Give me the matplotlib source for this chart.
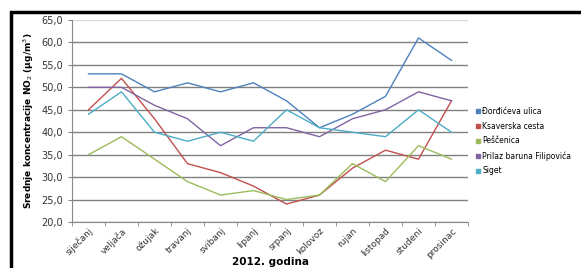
import matplotlib.pyplot as plt
from matplotlib.patches import Rectangle
from matplotlib.lines import Line2D
from matplotlib.ticker import FuncFormatter

mjeseci = ['siječanj', 'veljača', 'ožujak', 'travanj', 'svibanj', 'lipanj',
           'srpanj', 'kolovoz', 'rujan', 'listopad', 'studeni', 'prosinac']

djordjiceva = [53, 53, 49, 51, 49, 51, 47, 41, 44, 48, 61, 56]
ksaverska = [45, 52, 43, 33, 31, 28, 24, 26, 32, 36, 34, 47]
pescenica = [35, 39, 34, 29, 26, 27, 25, 26, 33, 29, 37, 34]
filipovica = [50, 50, 46, 43, 37, 41, 41, 39, 43, 45, 49, 47]
siget = [44, 49, 40, 38, 40, 38, 45, 41, 40, 39, 45, 40]

nazivi = ['Đorđićeva ulica', 'Ksaverska cesta', 'Peščenica',
          'Prilaz baruna Filipovića', 'Siget']
boje = ['#4F81BD', '#C0504D', '#9BBB59', '#8064A2', '#4BACC6']

fig = plt.figure(figsize=(5.81, 2.68), dpi=100)
ax = fig.add_axes([72/581, 1 - 222/268, 396/581, 202/268])

x = range(len(mjeseci))
for serija, naziv, boja in zip([djordjiceva, ksaverska, pescenica, filipovica, siget], nazivi, boje):
    ax.plot(x, serija, color=boja, lw=1, label=naziv)

ax.set_xlim(-0.5, 11.5)
ax.set_ylim(20, 65)
ax.set_yticks(range(20, 66, 5))
ax.yaxis.set_major_formatter(FuncFormatter(lambda v, p: f'{v:.1f}'.replace('.', ',')))
ax.set_xticks(list(x))
ax.set_xticklabels(mjeseci, rotation=45, ha='right', rotation_mode='anchor', fontsize=6.5, color='#333333')
ax.set_xticks([i - 0.5 for i in range(13)], minor=True)
ax.tick_params(axis='x', which='major', length=0, pad=3)
ax.tick_params(axis='x', which='minor', length=3, color='#888888')
ax.tick_params(axis='y', length=3, color='#888888', labelsize=7, labelcolor='#333333')
ax.grid(axis='y', color='#808080', lw=1)
ax.get_ygridlines()[-1].set_color('#d8d8d8')
ax.set_axisbelow(True)
for s in ['top', 'right']:
    ax.spines[s].set_visible(False)
for s in ['left', 'bottom']:
    ax.spines[s].set_color('#888888')

ax.set_xlabel('2012. godina', fontsize=7.5, fontweight='bold', labelpad=-2)
ax.set_ylabel('Srednje koncentracije NO$_2$ (µg/m$^3$)', fontsize=6.5, fontweight='bold', labelpad=4)

# legenda s kvadraticima
ruckice = [Line2D([], [], ls='none', marker='s', markersize=3.5, color=b) for b in boje]
ax.legend(ruckice, nazivi, loc='center left', bbox_to_anchor=(1.005, 0.40), frameon=False, fontsize=5.5,
          handlelength=0.6, handletextpad=0.3, labelspacing=0.75, borderaxespad=0.3)

# okvir slike
fig.patches.append(Rectangle((11/581, -0.1), 1.2, 1 - 12/268 + 0.1, transform=fig.transFigure,
                             fill=False, edgecolor='black', lw=2.5))

fig.savefig('out.png', dpi=100)
